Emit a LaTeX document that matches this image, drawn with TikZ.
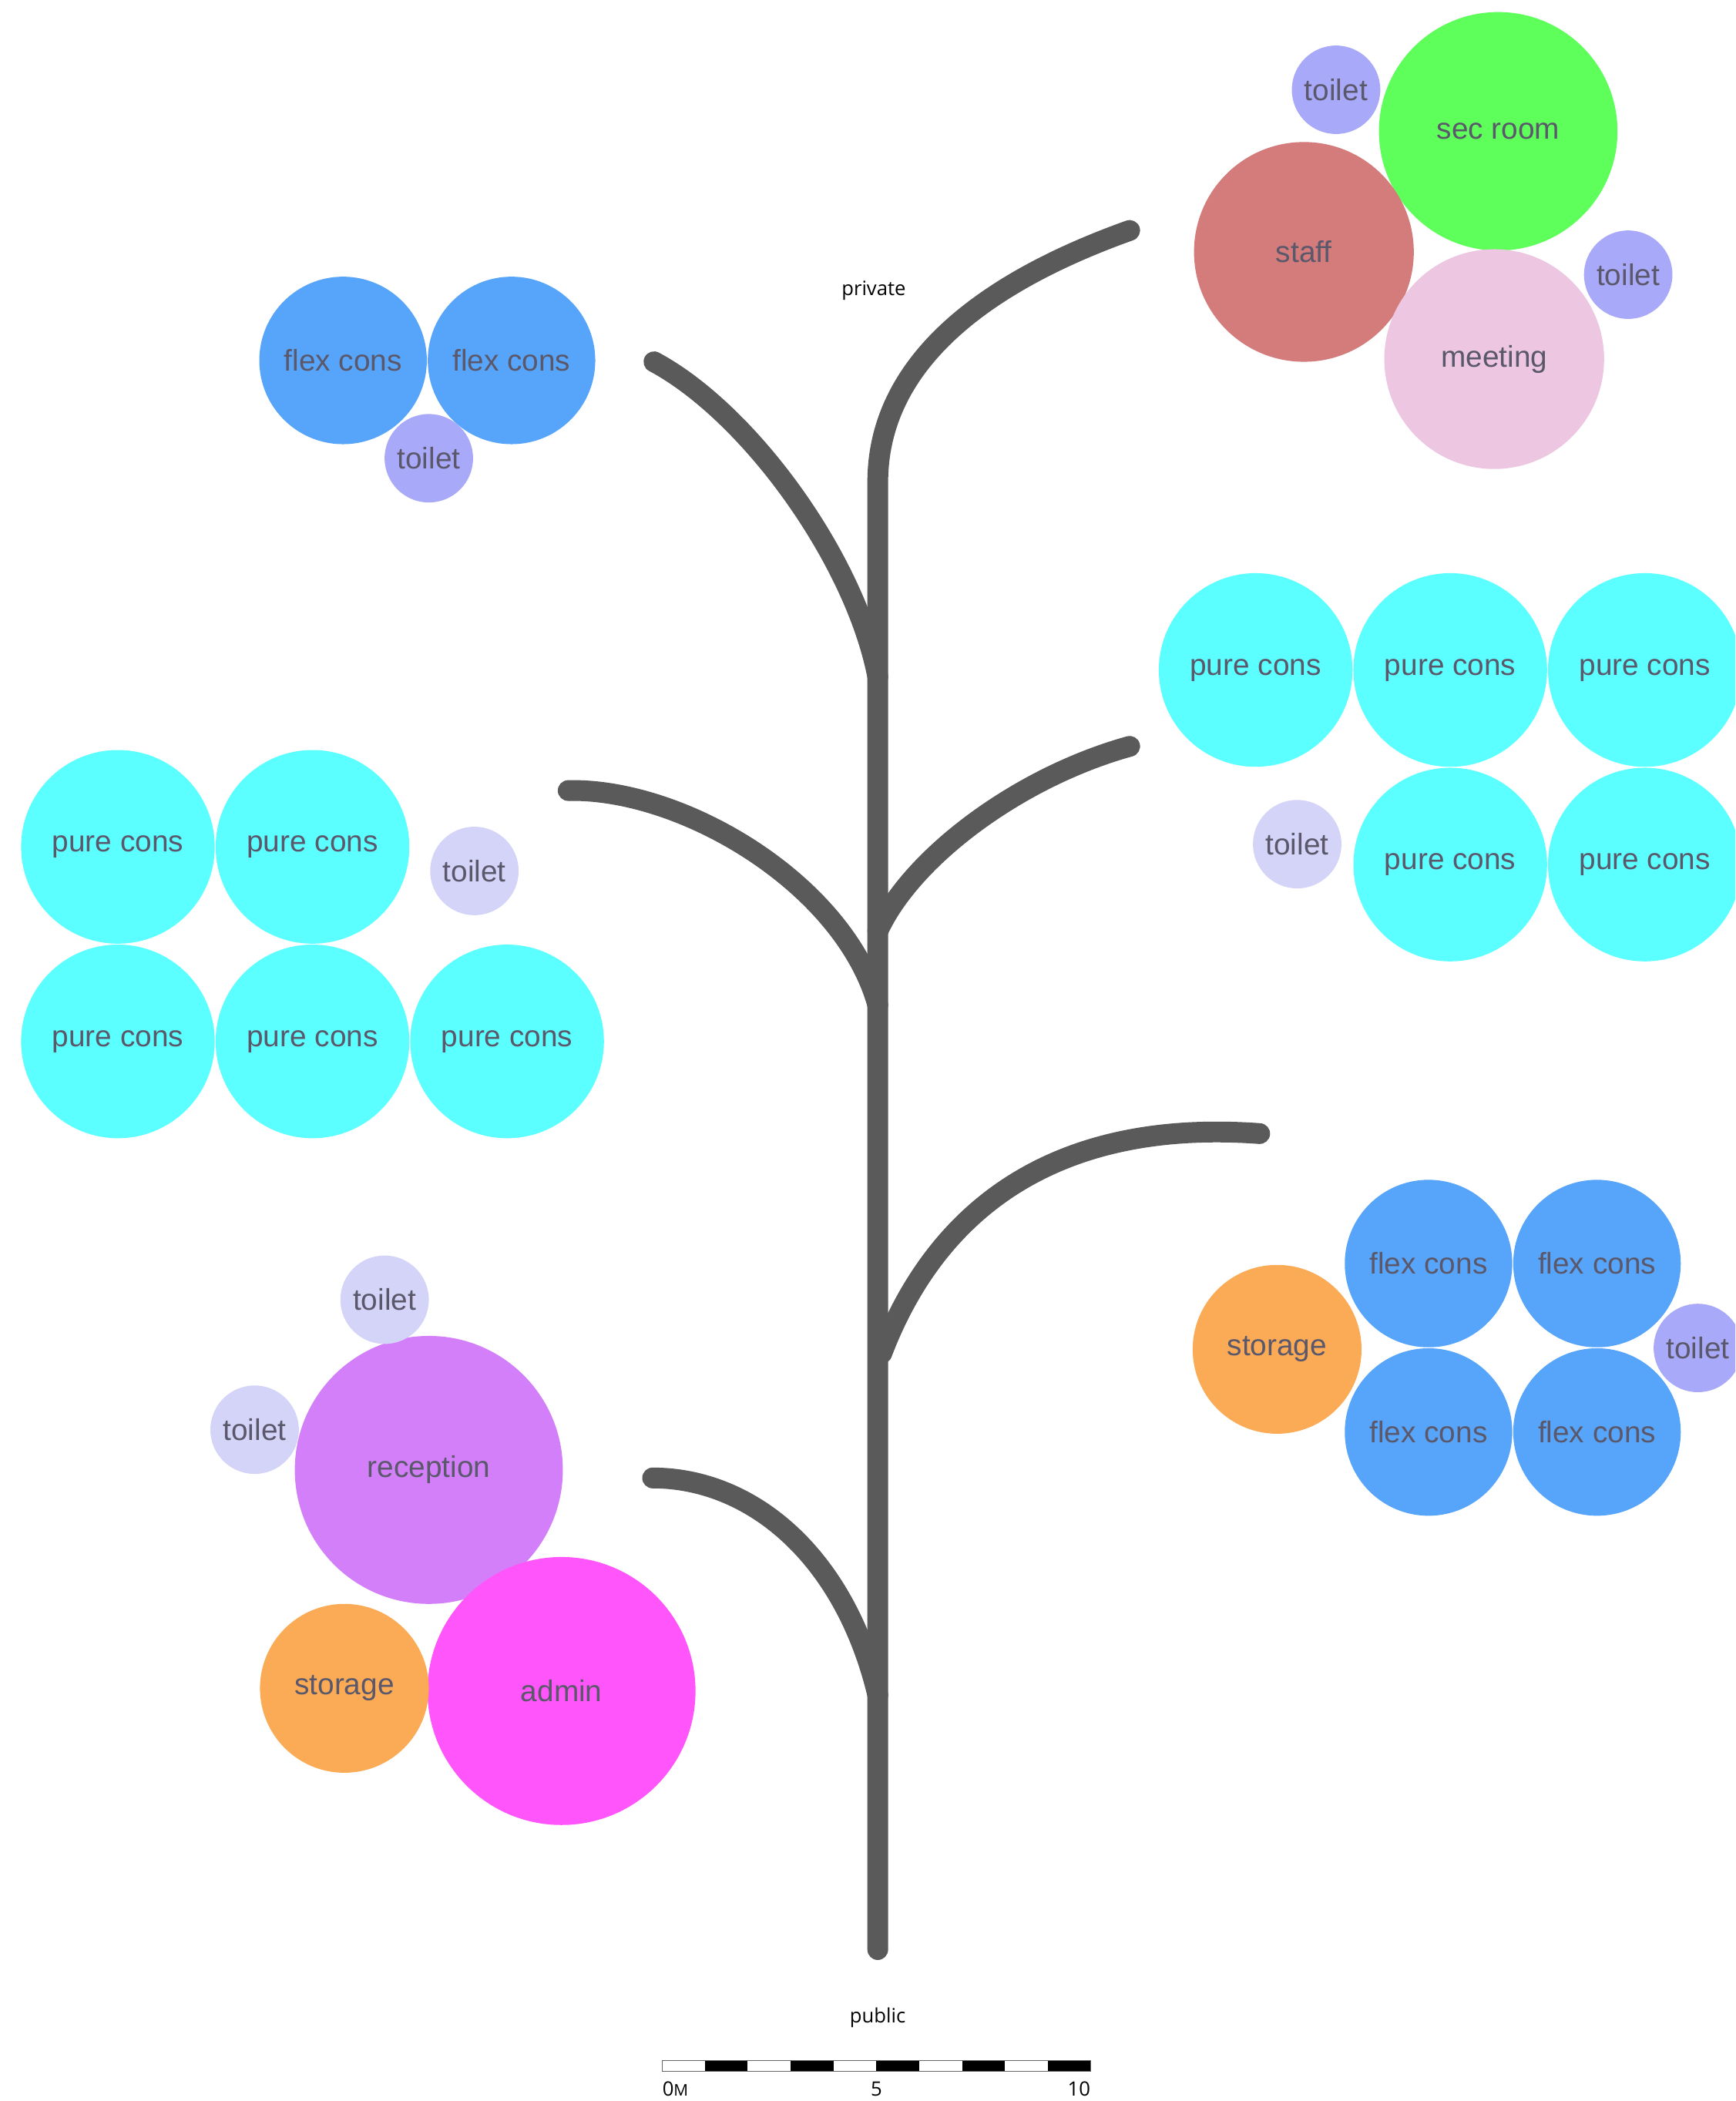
\documentclass[tikz,border=0pt]{standalone}
\usepackage{fontspec}
\setmainfont{Liberation Sans}
\newfontfamily\notefont{Open Sans}
\usetikzlibrary{positioning}

\definecolor{ink}{HTML}{5A586A}
\definecolor{stem}{HTML}{5A5A5A}
\definecolor{purecol}{HTML}{5CFFFF}
\definecolor{flexcol}{HTML}{57A5FA}
\definecolor{wcdark}{HTML}{A9A9F9}
\definecolor{wclight}{HTML}{D4D3F8}
\definecolor{seccol}{HTML}{5EFF5A}
\definecolor{staffcol}{HTML}{D47C7C}
\definecolor{meetcol}{HTML}{EDC6E2}
\definecolor{recepcol}{HTML}{D47FFA}
\definecolor{admincol}{HTML}{FF55FB}
\definecolor{storecol}{HTML}{FBAA56}

\begin{document}
\begin{tikzpicture}
  [x=0.2mm, y=-0.2mm,
    room/.style={%
      circle, inner sep=0pt, text=ink,
      font=\fontsize{12.7}{14}\selectfont
    },
    pure/.style={room, fill=purecol, minimum size=28.9mm},
    flex/.style={room, fill=flexcol, minimum size=25mm},
    wc/.style={room, fill=wcdark, minimum size=13.2mm},
    wclite/.style={room, fill=wclight, minimum size=13.2mm},
    store/.style={room, fill=storecol, minimum size=25.2mm},
    branch/.style={%
      draw=stem, line width=3.1mm, line cap=round
    },
    note/.style={text=black, font=\notefont\fontsize{8.4}{10}\selectfont},
  ]

  \useasboundingbox (0,0) rectangle (1295,1568);
  \clip (0,0) rectangle (1295,1568);
  \fill[white] (0,0) rectangle (1295,1568);

  % stem and branches
  \coordinate (root) at (655,1455);
  \coordinate (crown) at (655,360);
  \coordinate (tipTR) at (843,172);
  \coordinate (tipTL) at (488,270);
  \coordinate (tipML) at (424,590);
  \coordinate (tipMR) at (843,557);
  \coordinate (tipLR) at (940,846);
  \coordinate (tipLL) at (487,1103);

  \draw[branch] (root) -- (crown)
    .. controls (655,265) and (745,207) .. (tipTR);
  \draw[branch] (tipTL) .. controls (559,308) and (638,417) .. (655,505);
  \draw[branch] (tipML) .. controls (510,588) and (630,660) .. (655,750);
  \draw[branch] (655,695) .. controls (680,640) and (760,580) .. (tipMR);
  \draw[branch] (658,1010) .. controls (700,900) and (790,835) .. (tipLR);
  \draw[branch] (tipLL) .. controls (560,1103) and (630,1160) .. (655,1265);

  \node[note] (private) at (652,217) {private};
  \node[note] (public) at (655,1506) {public};

  % staff cluster
  \node[room, fill=seccol, minimum size=35.6mm] (sec) at (1118,98) {sec room};
  \node[room, fill=staffcol, minimum size=32.8mm] (staff) at (973,188) {staff};
  \node[room, fill=meetcol, minimum size=32.8mm] (meet) at (1115,268) {meeting};
  \node[wc] (wc1) at (997,67) {toilet};
  \node[wc] (wc2) at (1215,205) {toilet};

  % flex cons, top
  \node[flex] (ft1) at (256,269) {flex cons};
  \node[flex] (ft2) [right=0pt of ft1] {flex cons};
  \node[wc] (wc3) at (320,342) {toilet};

  % pure cons, right
  \node[pure] (pr1) at (937,500) {pure cons};
  \node[pure] (pr2) [right=0pt of pr1] {pure cons};
  \node[pure] (pr3) [right=0pt of pr2] {pure cons};
  \node[pure] (pr4) [below=0pt of pr2] {pure cons};
  \node[pure] (pr5) [below=0pt of pr3] {pure cons};
  \node[wclite] (wc4) at (968,630) {toilet};

  % pure cons, left
  \node[pure] (pl1) at (88,632) {pure cons};
  \node[pure] (pl2) [right=0pt of pl1] {pure cons};
  \node[pure] (pl3) [below=0pt of pl1] {pure cons};
  \node[pure] (pl4) [right=0pt of pl3] {pure cons};
  \node[pure] (pl5) [right=0pt of pl4] {pure cons};
  \node[wclite] (wc5) at (354,650) {toilet};

  % flex cons, right
  \node[flex] (fr1) at (1066,943) {flex cons};
  \node[flex] (fr2) [right=0pt of fr1] {flex cons};
  \node[flex] (fr3) [below=0pt of fr1] {flex cons};
  \node[flex] (fr4) [right=0pt of fr3] {flex cons};
  \node[store] (st1) at (953,1007) {storage};
  \node[wc] (wc6) at (1267,1006) {toilet};

  % entrance cluster
  \node[room, fill=recepcol, minimum size=40mm] (recep) at (320,1097) {reception};
  \node[room, fill=admincol, minimum size=40mm] (admin) at (419,1262) {admin};
  \node[store] (st2) at (257,1260) {storage};
  \node[wclite] (wc7) at (287,970) {toilet};
  \node[wclite] (wc8) at (190,1067) {toilet};

  % scale bar
  \fill[white] (494,1538) rectangle (814,1546);
  \foreach \i in {1,3,...,9}
    \fill[black] (494+32*\i,1538) rectangle ++(32,8);
  \draw[black!60, line width=0.3pt] (494,1538) rectangle (814,1546);
  \node[note, anchor=west, inner sep=0pt] (s0) at (494,1559) {0{\fontsize{6.8}{8}\selectfont M}};
  \node[note, inner sep=0pt] (s5) at (654,1559) {5};
  \node[note, anchor=east, inner sep=0pt] (s10) at (814,1559) {10};
\end{tikzpicture}
\end{document}
